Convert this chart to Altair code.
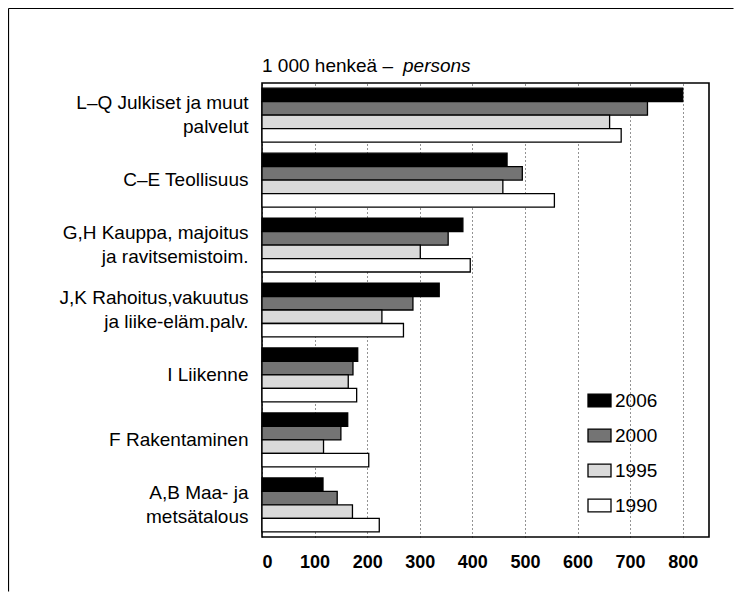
import altair as alt
import pandas as pd

categories = [
    "L–Q Julkiset ja muut|palvelut",
    "C–E Teollisuus",
    "G,H Kauppa, majoitus|ja ravitsemistoim.",
    "J,K Rahoitus,vakuutus|ja liike-eläm.palv.",
    "I Liikenne",
    "F Rakentaminen",
    "A,B Maa- ja|metsätalous",
]
years = ["2006", "2000", "1995", "1990"]
v2006 = [800, 466, 382, 337, 182, 163, 116]
v2000 = [733, 495, 354, 287, 173, 150, 143]
v1995 = [661, 458, 301, 228, 164, 117, 172]
v1990 = [683, 556, 396, 269, 180, 203, 223]
tick_values = [0, 100, 200, 300, 400, 500, 600, 700, 800]
fills = ["#000000", "#747474", "#dadada", "#ffffff"]
title_main = ["1 000 henkeä – "]
title_italic = ["persons"]

series = {"2006": v2006, "2000": v2000, "1995": v1995, "1990": v1990}
rows = []
for y in years:
    for c, v in zip(categories, series[y]):
        rows.append({"category": c, "year": y, "value": v})
df = pd.DataFrame(rows)

FONT = "Liberation Sans, Arial, Helvetica, sans-serif"
W, H = 447, 454
LINE_H = 23.5

bars = alt.Chart(df).mark_bar(stroke="black", strokeWidth=1.3).encode(
    x=alt.X("value:Q", scale=alt.Scale(domain=[0, 850], nice=False),
            axis=alt.Axis(values=tick_values, title=None, grid=True, gridColor="black",
                          gridDash=[1, 3], gridWidth=1, gridOpacity=0.85,
                          domain=False, ticks=False, labelFontSize=18,
                          labelFontWeight="bold", labelPadding=16, labelFont=FONT,
                          labelColor="black")),
    y=alt.Y("category:N", sort=categories,
            scale=alt.Scale(paddingInner=0.17, paddingOuter=0.08),
            axis=alt.Axis(title=None, domain=False, ticks=False, labelFontSize=19,
                          labelPadding=14, labelFont=FONT, labelColor="black",
                          labelLimit=300, labelLineHeight=LINE_H,
                          labelOffset={"condition": {"test": "indexof(datum.value, '|') >= 0",
                                                     "value": -LINE_H / 2},
                                       "value": 0},
                          labelExpr="split(datum.value, '|')")),
    yOffset=alt.YOffset("year:N", sort=years,
                        scale=alt.Scale(paddingInner=0, paddingOuter=0)),
    fill=alt.Fill("year:N", sort=years,
                  scale=alt.Scale(domain=years, range=fills),
                  legend=alt.Legend(title=None, orient="none", legendX=325, legendY=305,
                                    symbolType="M-1,-0.56L1,-0.56L1,0.56L-1,0.56Z",
                                    symbolSize=529, symbolStrokeColor="black",
                                    symbolStrokeWidth=1.3, symbolOpacity=1,
                                    labelFontSize=19, labelFont=FONT, labelColor="black",
                                    rowPadding=12, labelOffset=3, padding=0)),
)

t1 = alt.Chart(pd.DataFrame({"t": title_main})).mark_text(
    align="left", baseline="alphabetic", fontSize=19, font=FONT, color="black"
).encode(text="t:N", x=alt.value(0), y=alt.value(-11))

t2 = alt.Chart(pd.DataFrame({"t": title_italic})).mark_text(
    align="left", baseline="alphabetic", fontSize=19, font=FONT, color="black",
    fontStyle="italic"
).encode(text="t:N", x=alt.value(141), y=alt.value(-11))

frame_df = pd.DataFrame({"k": [0]})
top_line = alt.Chart(frame_df).mark_rule(color="black", strokeWidth=1.2).encode(
    x=alt.value(-253.5), x2=alt.value(W + 24.5), y=alt.value(-74.5))
left_line = alt.Chart(frame_df).mark_rule(color="black", strokeWidth=1.2).encode(
    x=alt.value(-253.5), y=alt.value(-74.5), y2=alt.value(H + 54.5))

chart = alt.layer(bars, t1, t2, top_line, left_line).properties(
    width=W, height=H,
    autosize=alt.AutoSizeParams(type="none"),
    padding={"left": 254, "top": 75, "right": 25, "bottom": 55},
    background="white",
).configure_view(stroke="black", strokeWidth=1.6)

chart.save("out.html", embed_options={"renderer": "svg", "actions": False})
